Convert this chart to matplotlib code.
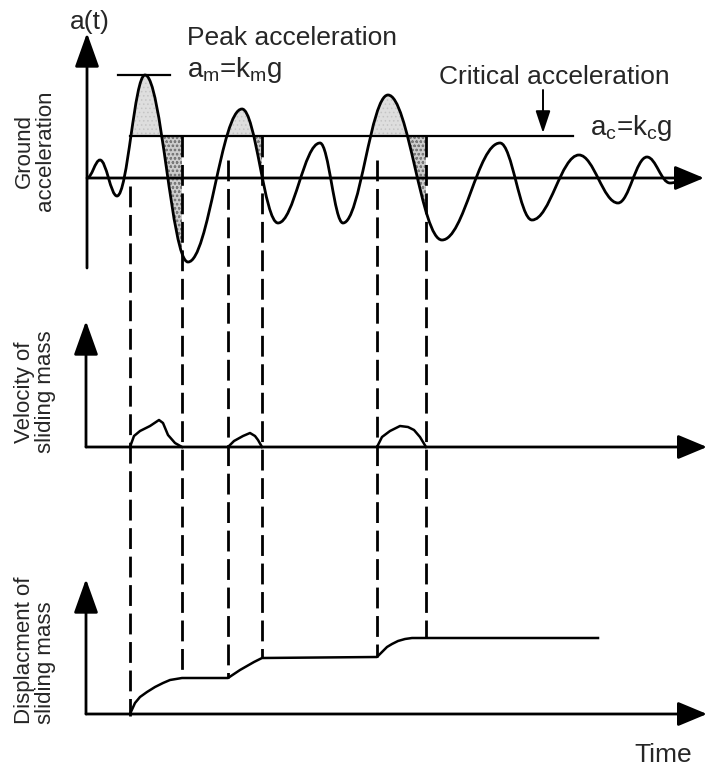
import matplotlib.pyplot as plt
import matplotlib.path as mpath
import matplotlib.patches as mpatch

plt.rcParams['font.family'] = ['Liberation Sans', 'DejaVu Sans']
plt.rcParams['mathtext.fontset'] = 'custom'
plt.rcParams['mathtext.rm'] = 'Liberation Sans'
plt.rcParams['mathtext.it'] = 'Liberation Sans'
plt.rcParams['lines.scale_dashes'] = False
plt.rcParams['hatch.linewidth'] = 0.6

# schematic drawn in figure pixel units (x right, y down)
W, H = 708, 769

# ground acceleration: turning points of the record
acc_x = [87, 100, 117, 145, 188, 242, 278, 320, 343, 388, 442, 500, 532,
         579, 618, 647, 670, 690]
acc_y = [178, 160, 196, 75, 262, 109, 223, 143, 223, 95, 240, 143, 220,
         155, 203, 157, 183, 178]

zero_y = 178      # a = 0
crit_y = 136      # a_c = k_c g
peak_y = 75       # a_m = k_m g

# sliding episodes: start, where a falls below a_c, where velocity is 0
slide_start = [130, 228, 377]
slide_drop = [163, 255, 410]
slide_end = [182, 262, 426]

# velocity of sliding mass (baseline 447)
vel_base = 447
vel_x = [[130, 134, 140, 150, 159, 163, 168, 175, 182],
         [228, 234, 243, 250, 255, 258, 262],
         [377, 382, 390, 400, 408, 414, 420, 426]]
vel_y = [[447, 436, 431, 426, 420, 423, 435, 443, 447],
         [447, 441, 436, 433, 436, 440, 447],
         [447, 437, 431, 426, 427, 430, 437, 447]]

# displacement of sliding mass (baseline 714)
disp_base = 714
disp_x = [130, 135, 140, 147, 155, 163, 170, 182, 228, 234, 240, 247, 254,
          262, 377, 382, 387, 392, 398, 405, 412, 426, 598]
disp_y = [714, 703, 697, 692, 687, 683, 680, 678, 678, 674, 670, 666, 662,
          658, 657, 652, 647, 644, 641, 639, 638, 638, 638]

# dashed guide lines: x, top, bottom
guide_x = [130, 182, 228, 262, 377, 426]
guide_top = [186, 136, 160, 136, 160, 136]
guide_bot = [716, 678, 678, 658, 657, 638]

fig = plt.figure(figsize=(W / 100, H / 100), dpi=100)
ax = fig.add_axes([0, 0, 1, 1])
ax.set_xlim(0, W)
ax.set_ylim(H, 0)
ax.axis('off')


def axis_arrow(start, tip, hl=1.4):
    ax.annotate('', xy=tip, xytext=start,
                arrowprops=dict(arrowstyle='-|>,head_length=%g,head_width=0.5' % hl,
                                lw=2, color='k', shrinkA=0, shrinkB=0,
                                mutation_scale=15))


# --- axes ---
axis_arrow((87, 268), (87, 33))
axis_arrow((87, zero_y), (704, zero_y), hl=1.2)
axis_arrow((86, vel_base), (86, 321))
axis_arrow((86, vel_base), (707, vel_base), hl=1.2)
axis_arrow((86, disp_base), (86, 579))
axis_arrow((86, disp_base), (707, disp_base), hl=1.2)

# --- acceleration curve as smooth bezier through turning points ---
c = 0.38
verts = [(acc_x[0], acc_y[0])]
codes = [mpath.Path.MOVETO]
for i in range(1, len(acc_x)):
    x0, y0, x1, y1 = acc_x[i - 1], acc_y[i - 1], acc_x[i], acc_y[i]
    d = x1 - x0
    verts += [(x0 + c * d, y0), (x1 - c * d, y1), (x1, y1)]
    codes += [mpath.Path.CURVE4] * 3

curve = mpath.Path(verts, codes)
below = mpath.Path(verts + [(acc_x[-1], 900), (acc_x[0], 900), verts[0]],
                   codes + [mpath.Path.LINETO] * 2 + [mpath.Path.CLOSEPOLY])
above = mpath.Path(verts + [(acc_x[-1], -50), (acc_x[0], -50), verts[0]],
                   codes + [mpath.Path.LINETO] * 2 + [mpath.Path.CLOSEPOLY])

for s, dr, e in zip(slide_start, slide_drop, slide_end):
    light = mpatch.PathPatch(below, facecolor='#dedede', edgecolor='#c4c4c4',
                             hatch='....', lw=0, zorder=1)
    ax.add_patch(light)
    light.set_clip_path(mpatch.Rectangle((s - 8, -50), dr - s + 16,
                                         crit_y + 50, transform=ax.transData))
    dark = mpatch.PathPatch(above, facecolor='#cccccc', edgecolor='#7a7a7a',
                            hatch='oooo', lw=0, zorder=1)
    ax.add_patch(dark)
    dark.set_clip_path(mpatch.Rectangle((dr - 8, crit_y), e - dr + 8,
                                        400, transform=ax.transData))

ax.add_patch(mpatch.PathPatch(curve, facecolor='none', edgecolor='k',
                              lw=2, zorder=3))

# critical and peak levels
ax.plot([130, 573], [crit_y, crit_y], color='k', lw=1.6, zorder=2)
ax.plot([118, 170], [peak_y, peak_y], color='k', lw=1.6, zorder=2)

# dashed guides
for gx, gt, gb in zip(guide_x, guide_top, guide_bot):
    ax.plot([gx, gx], [gt, gb], color='k', lw=2,
            linestyle=(0, (15, 5.5)), zorder=2)

# velocity and displacement
for vx, vy in zip(vel_x, vel_y):
    ax.plot(vx, vy, color='k', lw=1.8, zorder=3)
ax.plot(disp_x, disp_y, color='k', lw=1.8, zorder=3)

# critical acceleration pointer
ax.annotate('', xy=(543, 133), xytext=(543, 90),
            arrowprops=dict(arrowstyle='-|>,head_length=0.9,head_width=0.3',
                            lw=1.4, color='k', shrinkA=0, shrinkB=0,
                            mutation_scale=15))

# --- text ---
tc = '#262626'
fs = 19
ax.text(70, 22, 'a(t)', fontsize=fs, color=tc, ha='left', va='center')
ax.text(187, 38, 'Peak acceleration', fontsize=fs, color=tc,
        ha='left', va='center')
ax.text(187, 70, r'a$_{\rm m}$=k$_{\rm m}$g', fontsize=fs + 1, color=tc,
        ha='left', va='center')
ax.text(554, 77, 'Critical acceleration', fontsize=fs, color=tc,
        ha='center', va='center')
ax.text(590, 128, r'a$_{\rm c}$=k$_{\rm c}$g', fontsize=fs + 1, color=tc,
        ha='left', va='center')
ax.text(663, 755, 'Time', fontsize=fs, color=tc, ha='center', va='center')

ls = 16
ax.text(35, 151, 'Ground\nacceleration', fontsize=ls, color=tc, rotation=90,
        ha='center', va='center', multialignment='center', linespacing=1.0)
ax.text(35, 392, 'Velocity of\nsliding mass', fontsize=ls, color=tc,
        rotation=90, ha='center', va='center', multialignment='center',
        linespacing=1.0)
ax.text(35, 650, 'Displacment of\nsliding mass', fontsize=ls, color=tc,
        rotation=90, ha='center', va='center', multialignment='left',
        linespacing=1.0)

fig.savefig('out.png', dpi=100)
